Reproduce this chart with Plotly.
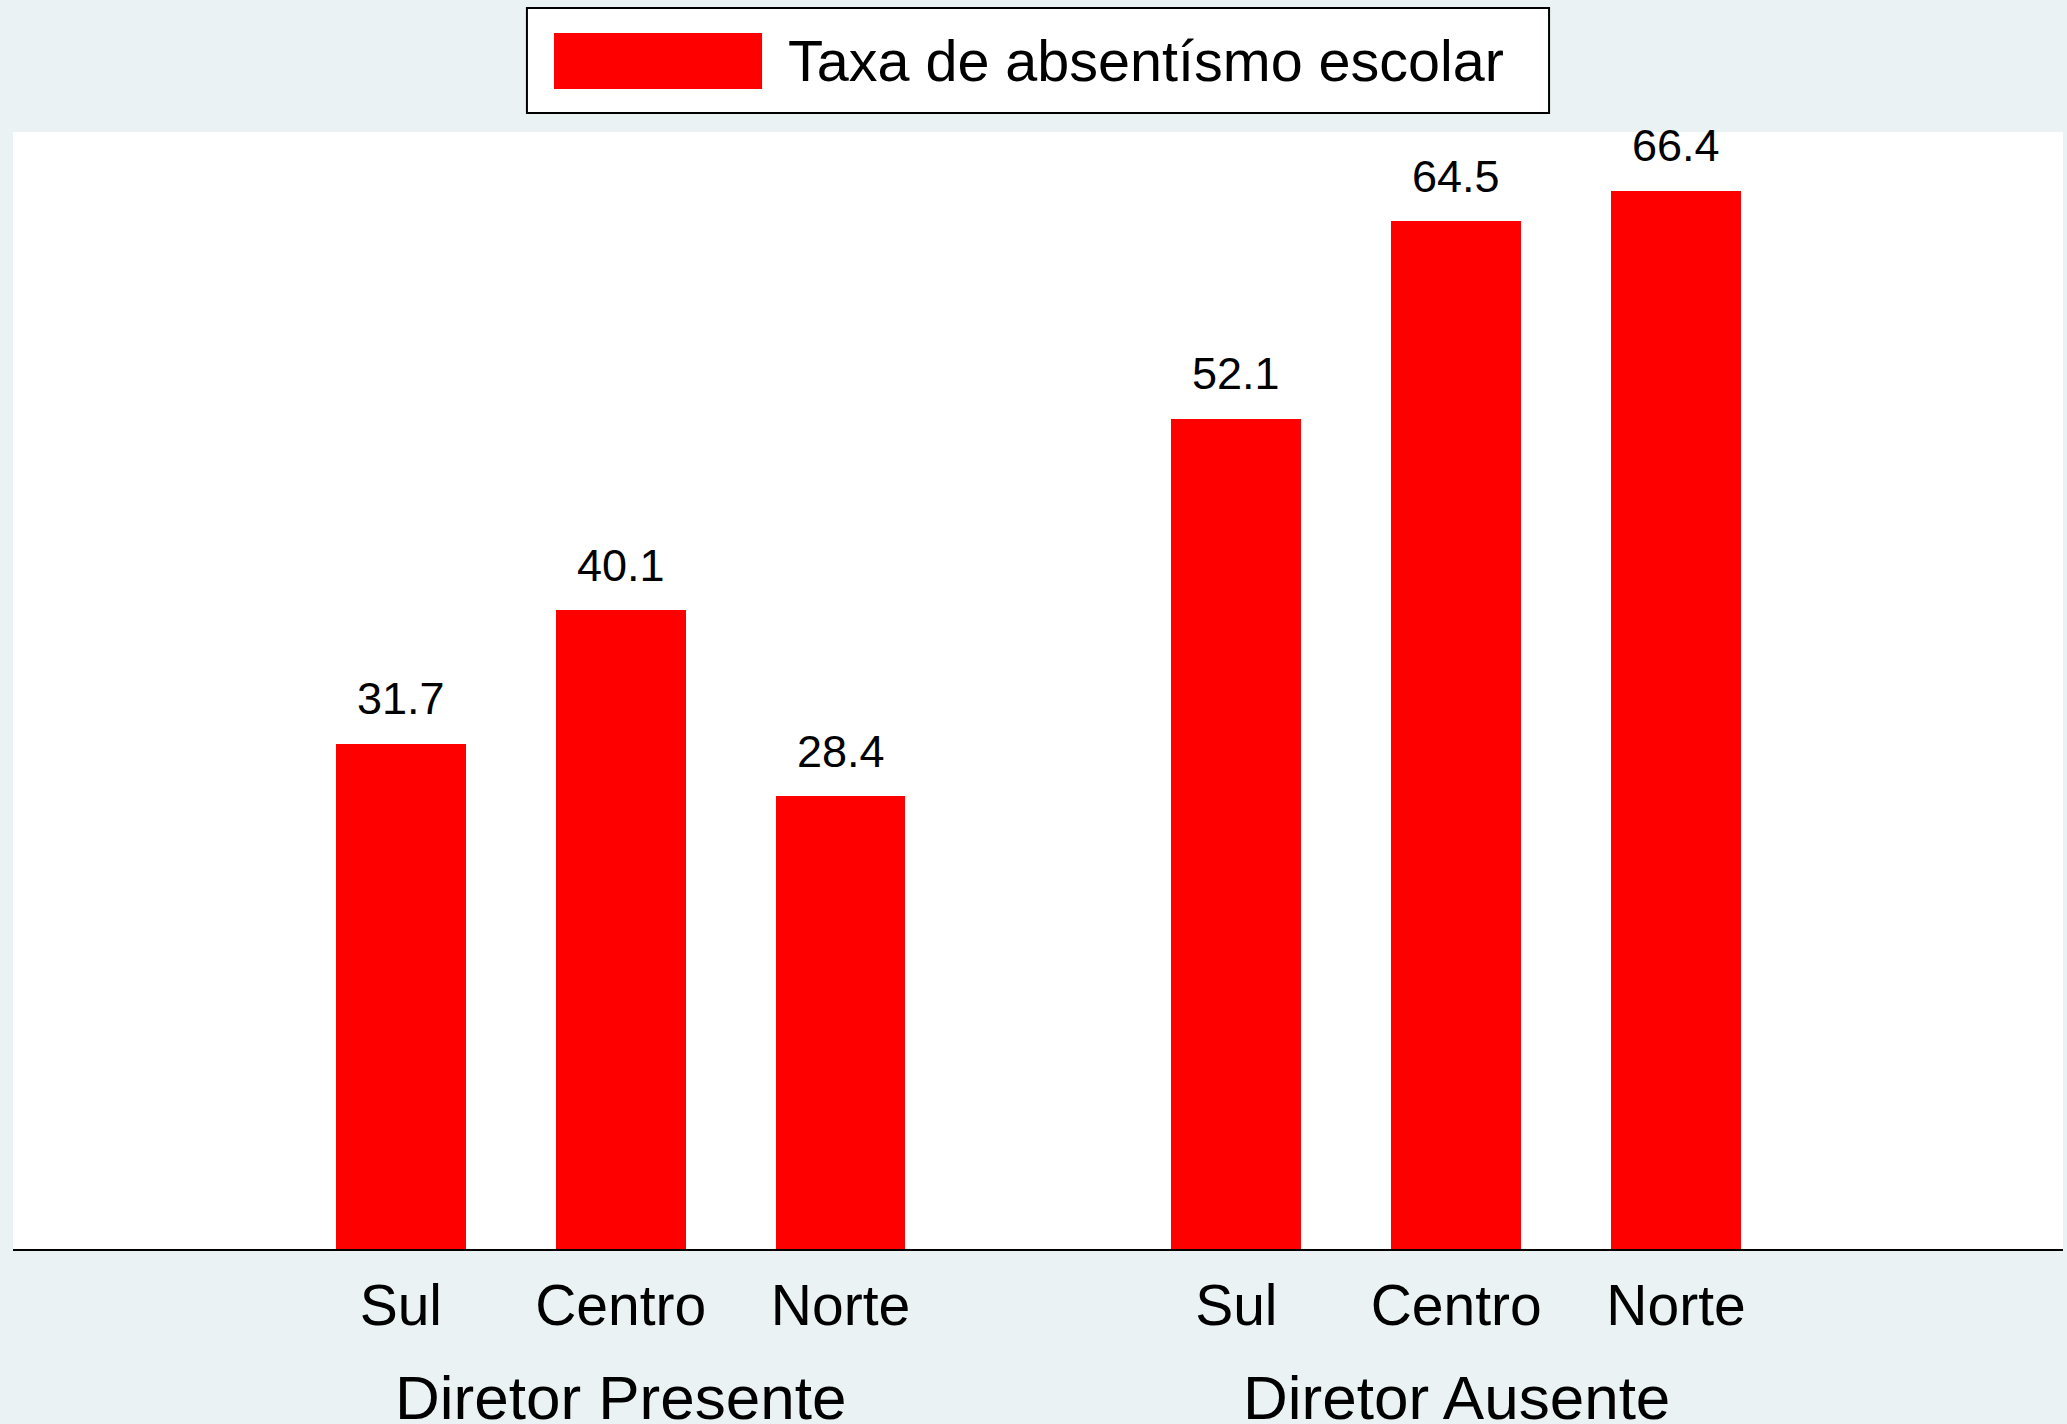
import plotly.graph_objects as go

# Data
groups = ["Diretor Presente", "Diretor Ausente"]
regions = ["Sul", "Centro", "Norte"]
presente = [31.7, 40.1, 28.4]
ausente = [52.1, 64.5, 66.4]
series_name = "Taxa de absentísmo escolar"

# positions (layout only)
pos_presente = [1, 2, 3]
pos_ausente = [4.8, 5.8, 6.8]
xs = pos_presente + pos_ausente
ys = presente + ausente
labels = regions + regions

FONT = "Liberation Sans, Arial, Helvetica, sans-serif"
BG = "#EAF2F3"
RED = "#FF0000"

fig = go.Figure()
fig.add_trace(go.Bar(x=xs, y=ys, width=0.59, marker=dict(color=RED, line=dict(width=0)),
                     name=series_name, showlegend=False, hoverinfo="y"))

# value labels
for x, y in zip(xs, ys):
    fig.add_annotation(x=x, y=y, xref="x", yref="y", text=f"{y:.1f}", showarrow=False,
                       yanchor="middle", yshift=45, font=dict(size=45, color="black", family=FONT))

# group labels
for g, p in zip(groups, [pos_presente, pos_ausente]):
    fig.add_annotation(x=sum(p) / len(p), y=-0.1325, xref="x", yref="paper", text=g, showarrow=False,
                       yanchor="middle", font=dict(size=62, color="black", family=FONT))

# custom legend
fig.add_shape(type="rect", xref="paper", yref="paper", x0=0.2507, x1=0.7493, y0=1.0170, y1=1.1110,
              line=dict(color="black", width=2), fillcolor="white")
fig.add_shape(type="rect", xref="paper", yref="paper", x0=0.2639, x1=0.3654, y0=1.0385, y1=1.0886,
              line=dict(width=0), fillcolor=RED)
fig.add_annotation(x=0.3771, y=1.0636, xref="paper", yref="paper", text=series_name, showarrow=False,
                   xanchor="left", yanchor="middle", font=dict(size=57.5, color="black", family=FONT))

fig.update_layout(
    width=2067, height=1424,
    margin=dict(l=13, r=4, t=132, b=175),
    paper_bgcolor=BG, plot_bgcolor="white",
    font=dict(family=FONT, color="black"),
    bargap=0,
    showlegend=False,
)
fig.update_xaxes(range=[-0.764, 8.56], tickvals=xs, ticktext=labels, showgrid=False, zeroline=False,
                 showline=True, linecolor="black", linewidth=2, ticks="outside", ticklen=6,
                 tickcolor="rgba(0,0,0,0)", tickfont=dict(size=57, color="black", family=FONT))
fig.update_yaxes(range=[0, 70.1], showgrid=False, zeroline=False, showticklabels=False, showline=False)

fig.write_html("out.html", config={"displayModeBar": False},
               post_script="document.body.style.margin='0';document.body.style.background='#EAF2F3';document.body.style.overflow='hidden';")
